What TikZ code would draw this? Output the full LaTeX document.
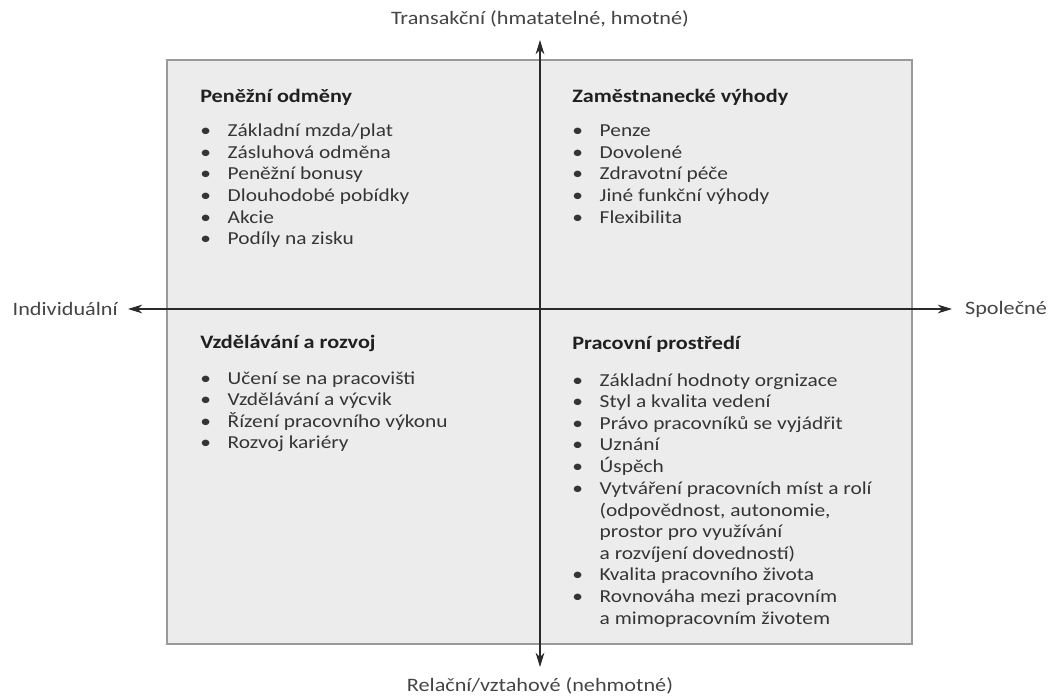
\documentclass[tikz,border=0pt]{standalone}
\usepackage{fontspec}
\setmainfont{Carlito}[FakeStretch=1.17]
\usetikzlibrary{arrows.meta}
\usetikzlibrary{positioning}
\definecolor{quadFill}{HTML}{ECECEC}
\definecolor{quadLine}{HTML}{9A9A9A}
\definecolor{axisCol}{HTML}{2A2A2A}
\definecolor{labelCol}{HTML}{454545}
\definecolor{headCol}{HTML}{202020}
\definecolor{itemCol}{HTML}{353535}
\tikzset{quadrant/.style={fill=quadFill, draw=quadLine, line width=1.1pt}}
\tikzset{axis/.style={draw=axisCol, line width=0.8pt, -{Stealth[length=3.6mm,width=2.2mm]}}}
\tikzset{axisLabel/.style={inner sep=0pt, text=labelCol, font=\fontsize{13.5}{16}\selectfont}}
\tikzset{heading/.style={anchor=base west, inner sep=0pt, text=headCol, font=\fontsize{13.5}{16}\selectfont\bfseries}}
\tikzset{itemList/.style={anchor=base west, inner sep=0pt, text=itemCol, font=\fontsize{13}{15.4}\selectfont}}
\newcommand{\itemcols}{@{}l@{\hspace{4.2mm}}l@{}}

\begin{document}
\begin{tikzpicture}[x=0.25mm,y=-0.25mm]
\fill[white] (0,0) rectangle (1049,696);
\filldraw[quadrant] (167,60) rectangle (912,644);
%
% axes
\coordinate (o) at (540,309);
\coordinate (ntip) at (540,40);
\coordinate (stip) at (540,667);
\coordinate (wtip) at (128,309);
\coordinate (etip) at (952,309);
\draw[axis] (o) -- (ntip);
\draw[axis] (o) -- (stip);
\draw[axis] (o) -- (wtip);
\draw[axis] (o) -- (etip);
\node[axisLabel, above=3.2mm of ntip] (transakcni) {Transakční (hmatatelné, hmotné)};
\node[axisLabel, below=2.6mm of stip] (relacni) {Relační/vztahové (nehmotné)};
\node[axisLabel, left=2.5mm of wtip] (individualni) {Individuální};
\node[axisLabel, right=3.2mm of etip] (spolecne) {Společné};
%
% top left
\node[heading] (penezni) at (200,102) {Peněžní odměny};
\node[itemList] (penezniList) at (200,136.5) {\begin{tabular}[t]{\itemcols}
  \textbullet & Základní mzda/plat\\
  \textbullet & Zásluhová odměna\\
  \textbullet & Peněžní bonusy\\
  \textbullet & Dlouhodobé pobídky\\
  \textbullet & Akcie\\
  \textbullet & Podíly na zisku
  \end{tabular}};
%
% top right
\node[heading] (vyhody) at (572,102) {Zaměstnanecké výhody};
\node[itemList] (vyhodyList) at (572,136.5) {\begin{tabular}[t]{\itemcols}
  \textbullet & Penze\\
  \textbullet & Dovolené\\
  \textbullet & Zdravotní péče\\
  \textbullet & Jiné funkční výhody\\
  \textbullet & Flexibilita
  \end{tabular}};
%
% bottom left
\node[heading] (rozvoj) at (200,348) {Vzdělávání a rozvoj};
\node[itemList] (rozvojList) at (200,384) {\begin{tabular}[t]{\itemcols}
  \textbullet & Učení se na pracovišti\\
  \textbullet & Vzdělávání a výcvik\\
  \textbullet & Řízení pracovního výkonu\\
  \textbullet & Rozvoj kariéry
  \end{tabular}};
%
% bottom right
\node[heading] (prostredi) at (572,349) {Pracovní prostředí};
\node[itemList] (prostrediList) at (572,386) {\begin{tabular}[t]{\itemcols}
  \textbullet & Základní hodnoty orgnizace\\
  \textbullet & Styl a kvalita vedení\\
  \textbullet & Právo pracovníků se vyjádřit\\
  \textbullet & Uznání\\
  \textbullet & Úspěch\\
  \textbullet & Vytváření pracovních míst a rolí\\
              & (odpovědnost, autonomie,\\
              & prostor pro využívání\\
              & a rozvíjení dovedností)\\
  \textbullet & Kvalita pracovního života\\
  \textbullet & Rovnováha mezi pracovním\\
              & a mimopracovním životem
  \end{tabular}};
\end{tikzpicture}
\end{document}
